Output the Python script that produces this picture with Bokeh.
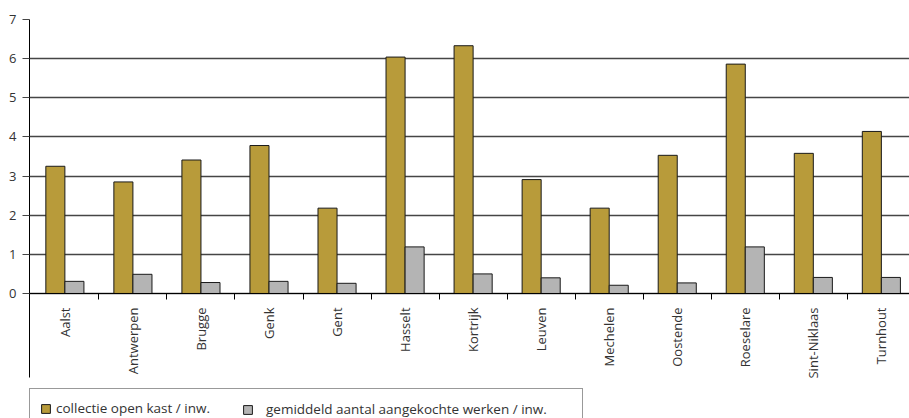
import math
from bokeh.plotting import figure
from bokeh.models import Range1d, FixedTicker, Legend, LegendItem, ColumnDataSource
from bokeh.transform import dodge
from bokeh.embed import file_html
from bokeh.resources import INLINE

cities = ["Aalst", "Antwerpen", "Brugge", "Genk", "Gent", "Hasselt", "Kortrijk",
          "Leuven", "Mechelen", "Oostende", "Roeselare", "Sint-Niklaas", "Turnhout"]
collectie = [3.25, 2.85, 3.41, 3.78, 2.18, 6.04, 6.33, 2.91, 2.18, 3.53, 5.86, 3.58, 4.14]
aangekocht = [0.31, 0.49, 0.28, 0.31, 0.26, 1.19, 0.50, 0.40, 0.21, 0.27, 1.19, 0.41, 0.41]
y_ticks = [0, 1, 2, 3, 4, 5, 6, 7]
series_names = ["collectie open kast / inw.", "gemiddeld aantal aangekochte werken / inw."]

FONT = "Open Sans"
GOLD = "#B89B3A"
GREY = "#B4B4B4"

n = len(cities)
centers = [i + 0.5 for i in range(n)]
bounds = [float(i) for i in range(1, n)]

src = ColumnDataSource(dict(x=centers, city=cities, a=collectie, b=aangekocht))

cat_px = 68.04
frame_w = 880
x0 = -0.02
px_per_unit = 39.14
frame_h = 399
y_top = 7
y_bottom = y_top - frame_h / px_per_unit
axis_bottom = -2.139

p = figure(width=909, height=418, output_backend="svg", toolbar_location=None,
           x_range=Range1d(x0, x0 + frame_w / cat_px), y_range=Range1d(y_bottom, y_top),
           min_border_left=29, min_border_right=0, min_border_top=19, min_border_bottom=0)
p.outline_line_color = None
p.background_fill_color = "white"
p.border_fill_color = "white"

r1 = p.vbar(x=dodge("x", -0.14, range=p.x_range), top="a", bottom=0, width=0.28, source=src,
            fill_color=GOLD, line_color="#1a1a1a", line_width=1)
r2 = p.vbar(x=dodge("x", 0.14, range=p.x_range), top="b", bottom=0, width=0.28, source=src,
            fill_color=GREY, line_color="#1a1a1a", line_width=1)

# grid
p.xgrid.visible = False
p.ygrid.ticker = FixedTicker(ticks=y_ticks)
p.ygrid.grid_line_color = "#454545"
p.ygrid.grid_line_width = 1.3

# y axis
ya = p.yaxis[0]
ya.ticker = FixedTicker(ticks=y_ticks)
ya.bounds = (axis_bottom, y_top)
ya.major_tick_out = 7
ya.major_tick_in = 0
ya.minor_tick_out = 0
ya.minor_tick_in = 0
ya.major_tick_line_color = "#454545"
ya.axis_line_color = "black"
ya.major_label_standoff = 6
ya.major_label_text_font = FONT
ya.major_label_text_font_size = "13px"
ya.major_label_text_color = "#333333"

# x axis at y = 0
xa = p.xaxis[0]
xa.fixed_location = 0
xa.ticker = FixedTicker(ticks=centers, minor_ticks=bounds)
xa.major_label_overrides = {c: name for c, name in zip(centers, cities)}
xa.major_tick_out = 0
xa.major_tick_in = 0
xa.minor_tick_out = 6
xa.minor_tick_in = 0
xa.minor_tick_line_color = "black"
xa.axis_line_color = "black"
xa.major_label_standoff = 8
xa.major_label_orientation = math.pi / 2
xa.major_label_text_font = FONT
xa.major_label_text_font_size = "13px"
xa.major_label_text_color = "#333333"

legend_style = dict(orientation="horizontal", margin=0, padding=10,
                    glyph_width=11, glyph_height=11, label_height=14,
                    label_text_font=FONT, label_text_font_size="13.5px",
                    label_text_color="#333333", border_line_color="#333333",
                    border_line_width=1)

# framed legend holding the first series; its label area is widened to span the box
legend_a = Legend(items=[LegendItem(label=series_names[0], renderers=[r1])],
                  location=(0, -10), label_standoff=5, label_width=516,
                  background_fill_color="white", background_fill_alpha=1, **legend_style)
# second series, drawn inside the same box (its own frame is invisible)
legend_b = Legend(items=[LegendItem(label=series_names[1], renderers=[r2])],
                  location=(203, -10), label_standoff=13, border_line_alpha=0,
                  background_fill_alpha=0, **legend_style)
p.add_layout(legend_a, "center")
p.add_layout(legend_b, "center")

open("out.html", "w").write(file_html(p, INLINE))
